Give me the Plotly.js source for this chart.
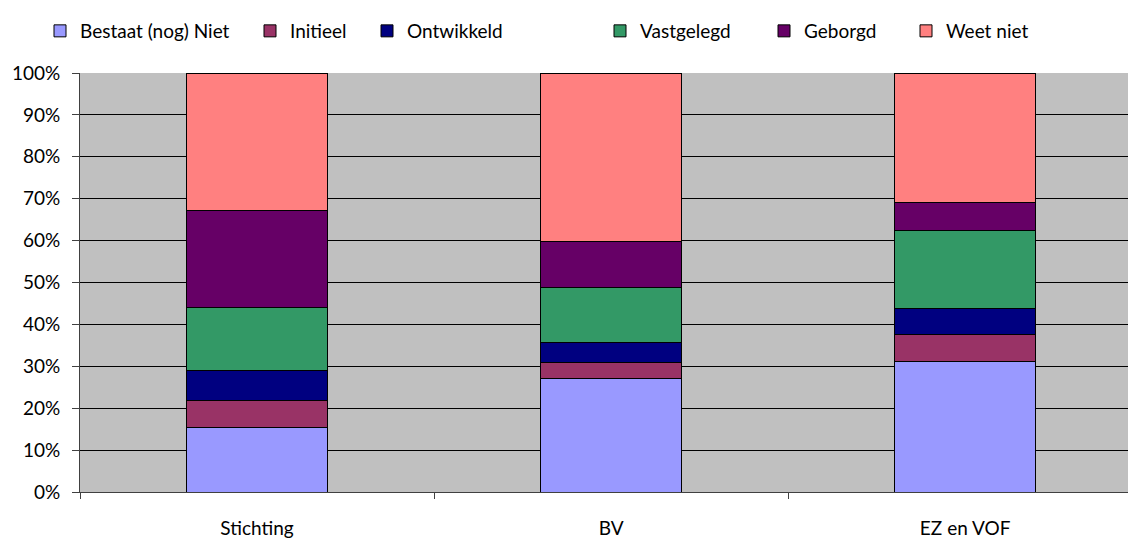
<!DOCTYPE html>
<html>
<head>
<meta charset="utf-8">
<script src="https://cdn.plot.ly/plotly-3.0.1.min.js"></script>
<style>
  html, body { margin: 0; padding: 0; background: #fff; }
  #chart { width: 1128px; height: 541px; }
</style>
</head>
<body>
<div id="chart"></div>
<script>
// Organisation types on the x axis
const categories = ['Stichting', 'BV', 'EZ en VOF'];

// Share of answers per maturity level (percent of each organisation type)
const bestaatNiet = [15.4, 27.0, 31.1];
const initieel    = [6.5, 4.0, 6.5];
const ontwikkeld  = [7.0, 4.7, 6.1];
const vastgelegd  = [15.2, 13.0, 18.7];
const geborgd     = [23.0, 11.0, 6.6];
const weetNiet    = [32.9, 40.3, 31.0];

const seriesNames  = ['Bestaat (nog) Niet', 'Initieel', 'Ontwikkeld', 'Vastgelegd', 'Geborgd', 'Weet niet'];
const seriesValues = [bestaatNiet, initieel, ontwikkeld, vastgelegd, geborgd, weetNiet];
const seriesColors = ['#9999FF', '#993366', '#000080', '#339966', '#660066', '#FF8080'];

// Each series gets its own legend box so the entries sit in one spaced row
const legendIds = ['legend', 'legend2', 'legend3', 'legend4', 'legend5', 'legend6'];
const legendLeftPx = [40, 250, 367, 600, 764, 906];

const traces = seriesNames.map((name, i) => ({
  type: 'bar',
  name: name,
  x: categories,
  y: seriesValues[i],
  width: 0.4,
  marker: { color: seriesColors[i], line: { color: '#000000', width: 1 } },
  legend: legendIds[i],
  hoverinfo: 'x+y+name'
}));

const font = { family: 'Lato, Open Sans, sans-serif', size: 19, color: '#000000' };

const marginL = 80, plotW = 1048;

const layout = {
  width: 1128,
  height: 541,
  margin: { l: marginL, r: 0, t: 73, b: 49 },
  paper_bgcolor: '#ffffff',
  plot_bgcolor: '#C0C0C0',
  barmode: 'stack',
  font: font,
  showlegend: true,
  xaxis: {
    type: 'category',
    range: [-0.5, 2.46],
    tickson: 'boundaries',
    ticks: 'outside',
    ticklen: 6,
    tickcolor: '#404040',
    showline: true,
    linecolor: '#404040',
    linewidth: 1,
    showgrid: false,
    ticklabelstandoff: 19,
    tickfont: font,
    fixedrange: true
  },
  yaxis: {
    range: [0, 100],
    dtick: 10,
    tick0: 0,
    ticksuffix: '%',
    ticks: 'outside',
    ticklen: 7,
    tickcolor: '#404040',
    showline: true,
    linecolor: '#404040',
    linewidth: 1,
    showgrid: true,
    gridcolor: '#000000',
    gridwidth: 1,
    zeroline: false,
    tickfont: font,
    ticklabelstandoff: 8,
    fixedrange: true
  }
};

legendIds.forEach((id, i) => {
  layout[id] = {
    orientation: 'h',
    xref: 'paper', yref: 'container',
    xanchor: 'left', yanchor: 'middle',
    x: (legendLeftPx[i] - marginL) / plotW,
    y: 1 - 31 / 541,
    font: font,
    bgcolor: 'rgba(0,0,0,0)',
    itemwidth: 30
  };
});

Plotly.newPlot('chart', traces, layout, { displayModeBar: false, staticPlot: true });
</script>
</body>
</html>
